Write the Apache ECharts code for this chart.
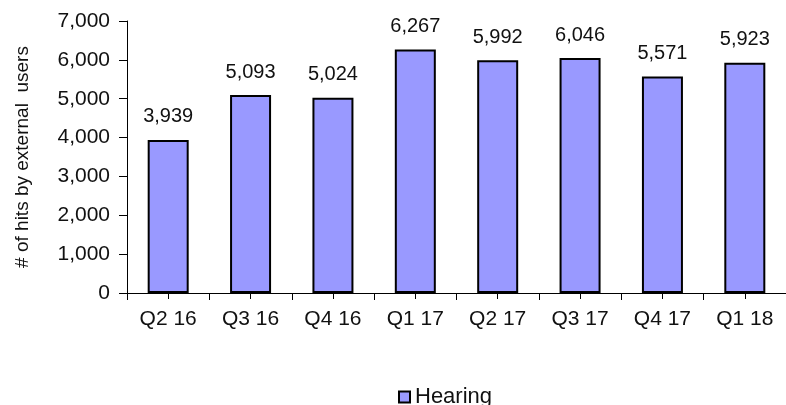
<!DOCTYPE html>
<html>
<head>
<meta charset="utf-8">
<script src="https://cdn.jsdelivr.net/npm/echarts@6/dist/echarts.min.js"></script>
<style>html,body{margin:0;padding:0;background:#fff;}#c{width:786px;height:405px;}</style>
</head>
<body>
<div id="c"></div>
<script>
const categories = ['Q2 16','Q3 16','Q4 16','Q1 17','Q2 17','Q3 17','Q4 17','Q1 18'];
const hearing = [3939, 5093, 5024, 6267, 5992, 6046, 5571, 5923];
const yTicks = [0, 1000, 2000, 3000, 4000, 5000, 6000, 7000];
const seriesName = 'Hearing';
const yTitle = '# of hits by external  users';

const font = 'Liberation Sans, Arial, sans-serif';
const fmt = v => Number(v).toLocaleString('en-US');
const chart = echarts.init(document.getElementById('c'), null, {renderer:'canvas'});
chart.setOption({
  animation: false,
  backgroundColor: '#fff',
  textStyle: {fontFamily: font},
  grid: {left: 127, top: 21, width: 670, height: 272, containLabel: false},
  legend: {
    data: [seriesName], left: 398, top: 386, icon: 'rect', padding: 0,
    itemWidth: 11, itemHeight: 11, itemGap: 6,
    itemStyle: {borderColor: '#000', borderWidth: 2},
    textStyle: {fontSize: 22, color: '#111', fontFamily: font}
  },
  xAxis: [{
    type: 'category', data: categories, boundaryGap: true,
    axisLine: {lineStyle: {color: '#000', width: 1}},
    axisTick: {show: true, length: 7, lineStyle: {color: '#000'}},
    axisLabel: {fontSize: 21, color: '#111', margin: 16, fontFamily: font}
  }, {
    type: 'category', data: categories, position: 'bottom', boundaryGap: true,
    axisLine: {show: false},
    axisTick: {show: true, alignWithLabel: true, length: 6, lineStyle: {color: '#000'}},
    axisLabel: {show: false}
  }],
  yAxis: {
    type: 'value', min: yTicks[0], max: yTicks[yTicks.length-1], interval: yTicks[1]-yTicks[0],
    name: yTitle, nameLocation: 'middle', nameGap: 95, nameRotate: 90,
    nameTextStyle: {fontSize: 19, color: '#111', fontFamily: font},
    axisLine: {show: true, lineStyle: {color: '#000', width: 1}},
    axisTick: {show: true, length: 8, lineStyle: {color: '#000'}},
    splitLine: {show: false},
    axisLabel: {fontSize: 21, color: '#111', margin: 17, formatter: fmt, fontFamily: font}
  },
  series: [{
    name: seriesName, type: 'bar', data: hearing, xAxisIndex: 0,
    barWidth: 41,
    itemStyle: {color: '#9999FF', borderColor: '#000', borderWidth: 2},
    label: {show: true, position: 'top', distance: 13, fontSize: 20, color: '#111', formatter: p => fmt(p.value), fontFamily: font}
  }]
});
</script>
</body>
</html>
